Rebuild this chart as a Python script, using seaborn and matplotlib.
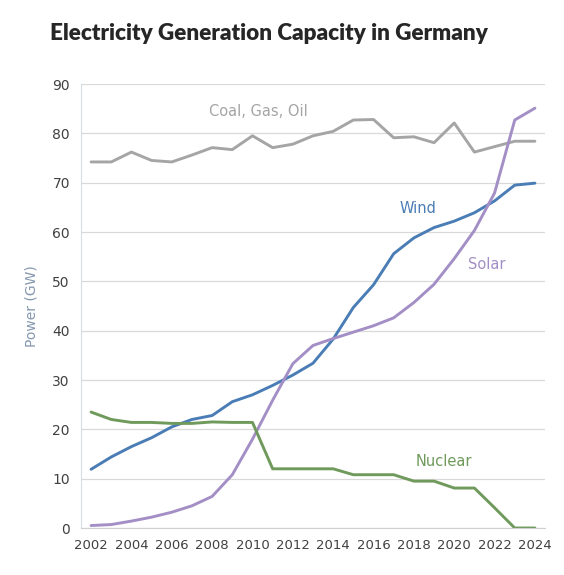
import numpy as np
import pandas as pd
import matplotlib
matplotlib.use("Agg")
import matplotlib.pyplot as plt
import seaborn as sns

# Data (GW)
years = list(range(2002, 2025))
coal_gas_oil = [74.2, 74.2, 76.2, 74.5, 74.2, 75.6, 77.1, 76.7, 79.5, 77.1, 77.8, 79.5,
                80.4, 82.7, 82.8, 79.1, 79.3, 78.1, 82.1, 76.2, 77.3, 78.4, 78.4]
wind = [11.9, 14.4, 16.5, 18.3, 20.5, 22.0, 22.8, 25.6, 27.0, 28.9, 31.0, 33.4,
        38.3, 44.7, 49.3, 55.6, 58.8, 60.9, 62.2, 63.9, 66.3, 69.5, 69.9]
solar = [0.5, 0.7, 1.4, 2.2, 3.2, 4.5, 6.4, 10.8, 18.0, 25.9, 33.3, 37.0,
         38.4, 39.7, 41.0, 42.6, 45.7, 49.4, 54.6, 60.3, 67.9, 82.7, 85.1]
nuclear = [23.5, 22.0, 21.4, 21.4, 21.2, 21.2, 21.5, 21.4, 21.4, 12.0, 12.0, 12.0,
           12.0, 10.8, 10.8, 10.8, 9.5, 9.5, 8.1, 8.1, 4.1, 0.0, 0.0]

series_names = ["Coal, Gas, Oil", "Wind", "Solar", "Nuclear"]
colors = ["#A5A5A5", "#4A7DB5", "#A38FC6", "#6F9A5C"]

df = pd.DataFrame({"Year": years, "Coal, Gas, Oil": coal_gas_oil, "Wind": wind,
                   "Solar": solar, "Nuclear": nuclear})
long = df.melt(id_vars="Year", var_name="Source", value_name="Power")

sns.set_style("white")
plt.rcParams['font.family'] = ['DejaVu Sans']

fig = plt.figure(figsize=(5.64, 5.75), dpi=100)
ax = fig.add_axes([81 / 564, 47 / 575, (545 - 81) / 564, (528 - 84) / 575])

sns.lineplot(data=long, x="Year", y="Power", hue="Source", hue_order=series_names,
             palette=colors, linewidth=2.1, legend=False, ax=ax)

ax.set_xlim(2001.5, 2024.5)
ax.set_ylim(0, 90)
ax.set_yticks(np.arange(0, 91, 10))
ax.yaxis.grid(True, color="#D9D9D9", linewidth=0.9)
ax.set_axisbelow(True)

# category-style x axis: labels at even years, tick marks between categories
ax.set_xticks(years[::2])
ax.set_xticklabels([str(y) for y in years[::2]])
ax.set_xticks(np.arange(2001.5, 2025, 1), minor=True)
ax.tick_params(axis="x", which="major", length=0, pad=8, labelsize=9.5, colors="#404040")
ax.tick_params(axis="x", which="minor", length=4, color="#D0D0D0", width=0.8)
ax.tick_params(axis="y", length=0, pad=8, labelsize=10, colors="#404040")

for s in ["top", "right"]:
    ax.spines[s].set_visible(False)
ax.spines["left"].set_color("#D6DCE4")
ax.spines["bottom"].set_color("#D0D0D0")

ax.set_xlabel("")
ax.set_ylabel("Power (GW)", color="#8497B0", fontsize=10, labelpad=10)

# inline series labels
ax.text(2010.3, 84.5, "Coal, Gas, Oil", color=colors[0], fontsize=10.5, ha="center", va="center")
ax.text(2018.2, 64.8, "Wind", color=colors[1], fontsize=10.5, ha="center", va="center")
ax.text(2021.6, 53.5, "Solar", color=colors[2], fontsize=10.5, ha="center", va="center")
ax.text(2019.5, 13.5, "Nuclear", color=colors[3], fontsize=10.5, ha="center", va="center")

fig.text(50 / 564, 1 - 34 / 575, "Electricity Generation Capacity in Germany",
         fontsize=16.2, fontweight="heavy", family=["Lato", "DejaVu Sans"],
         color="#262626", ha="left", va="center")

fig.savefig("out.png", dpi=100, facecolor="white")
